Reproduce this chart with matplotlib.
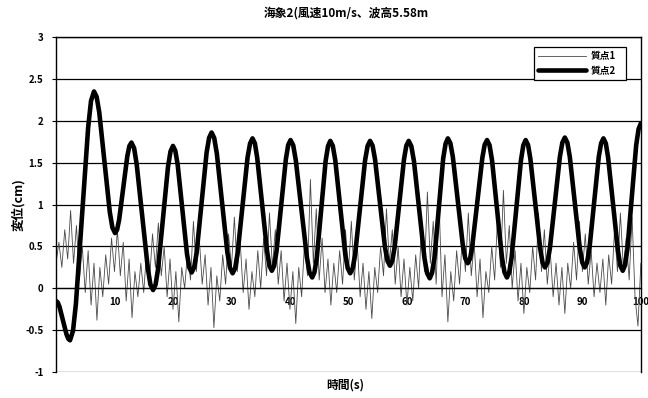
import matplotlib
matplotlib.use("Agg")
import matplotlib.pyplot as plt
import numpy as np

plt.rcParams['font.family'] = ['Noto Sans CJK JP', 'DejaVu Sans']

title = "海象2(風速10m/s、波高5.58m"
xlabel = "時間(s)"
ylabel = "変位(cm)"
series_names = ["質点1", "質点2"]

# 質点1: thin noisy line, sampled every 0.5 s from 0 to 100 s
t1 = np.arange(0, 100.01, 0.5)
y1 = [
    0.30, 0.55, 0.25, 0.70, 0.35, 0.93, 0.30, 0.75, 0.10, 0.50,
    -0.05, 0.45, -0.20, 0.30, -0.38, 0.25, -0.10, 0.40, 0.05, 0.60,
    0.20, 0.70, 0.15, 0.55, -0.15, 0.35, -0.35, 0.20, -0.10, 0.30,
    -0.05, 0.45, 0.10, 0.65, 0.25, 0.78, 0.15, 0.50, -0.10, 0.35,
    -0.25, 0.20, -0.40, 0.25, 0.00, 0.45, 0.10, 0.80, 0.20, 0.60,
    0.05, 0.40, -0.20, 0.25, -0.47, 0.15, -0.15, 0.40, 0.05, 0.65,
    0.25, 0.85, 0.20, 0.55, -0.05, 0.35, -0.25, 0.20, -0.10, 0.45,
    0.00, 0.60, 0.15, 0.90, 0.25, 0.70, 0.05, 0.45, -0.15, 0.30,
    -0.25, 0.20, -0.42, 0.25, -0.10, 0.55, 0.15, 1.30, 0.30, 0.95,
    0.10, 0.60, -0.05, 0.35, -0.20, 0.30, -0.05, 0.45, 0.05, 0.70,
    0.20, 0.80, 0.10, 0.55, -0.10, 0.30, -0.25, 0.20, -0.36, 0.25,
    -0.05, 0.50, 0.15, 0.95, 0.30, 0.70, 0.05, 0.50, -0.10, 0.35,
    -0.20, 0.25, -0.15, 0.40, 0.00, 0.75, 0.20, 1.15, 0.30, 0.80,
    0.05, 1.05, -0.10, 0.40, -0.40, 0.20, -0.15, 0.45, 0.05, 0.65,
    0.20, 0.90, 0.15, 0.55, -0.10, 0.35, -0.35, 0.20, -0.05, 0.50,
    0.10, 0.85, 0.25, 1.17, 0.30, 0.75, 0.00, 0.45, -0.15, 0.30,
    -0.30, 0.25, -0.05, 0.50, 0.10, 0.90, 0.20, 0.70, 0.05, 0.45,
    -0.10, 0.30, -0.20, 0.25, -0.30, 0.30, 0.00, 0.55, 0.10, 0.80,
    0.20, 0.65, 0.05, 0.45, -0.10, 0.30, -0.05, 0.35, -0.20, 0.40,
    0.05, 0.70, 0.20, 0.90, 0.25, 0.60, 0.10, 0.85, -0.10, -0.45,
    0.30,
]

# 質点2: heavy slow oscillation (times and values)
t2 = [
    0.0, 0.3, 0.6, 1.2, 1.8, 2.1,
    2.4, 2.91, 3.4, 4.45, 5.5, 5.99,
    6.5, 6.95, 7.4, 8.3, 9.2, 9.65,
    10.1, 10.45, 10.8, 11.5, 12.2, 12.55,
    12.9, 13.36, 13.8, 14.75, 15.7, 16.14,
    16.6, 17.03, 17.45, 18.3, 19.15, 19.58,
    20.0, 20.4, 20.8, 21.6, 22.4, 22.8,
    23.2, 23.63, 24.05, 24.9, 25.75, 26.18,
    26.6, 27.05, 27.5, 28.4, 29.3, 29.75,
    30.2, 30.63, 31.05, 31.9, 32.75, 33.18,
    33.6, 34.01, 34.4, 35.25, 36.1, 36.49,
    36.9, 37.3, 37.7, 38.5, 39.3, 39.7,
    40.1, 40.56, 41.0, 41.95, 42.9, 43.34,
    43.8, 44.19, 44.6, 45.35, 46.1, 46.51,
    46.9, 47.33, 47.75, 48.6, 49.45, 49.88,
    50.3, 50.73, 51.15, 52.0, 52.85, 53.28,
    53.7, 54.13, 54.55, 55.4, 56.25, 56.68,
    57.1, 57.5, 57.9, 58.7, 59.5, 59.9,
    60.3, 60.75, 61.2, 62.1, 63.0, 63.45,
    63.9, 64.29, 64.7, 65.45, 66.2, 66.61,
    67.0, 67.43, 67.85, 68.7, 69.55, 69.98,
    70.4, 70.81, 71.2, 72.05, 72.9, 73.29,
    73.7, 74.13, 74.55, 75.4, 76.25, 76.68,
    77.1, 77.5, 77.9, 78.7, 79.5, 79.9,
    80.3, 80.71, 81.1, 81.95, 82.8, 83.19,
    83.6, 84.03, 84.45, 85.3, 86.15, 86.58,
    87.0, 87.43, 87.85, 88.7, 89.55, 89.98,
    90.4, 90.8, 91.2, 92.0, 92.8, 93.2,
    93.6, 94.01, 94.4, 95.25, 96.1, 96.49,
    96.9, 97.29, 97.7, 98.45, 99.2, 99.61,
    100.0,
]
y2 = [
    -0.15, -0.168, -0.22, -0.385, -0.55, -0.602,
    -0.62, -0.507, -0.19, 0.87, 1.92, 2.237,
    2.35, 2.286, 2.10, 1.505, 0.91, 0.724,
    0.66, 0.701, 0.82, 1.20, 1.58, 1.699,
    1.74, 1.673, 1.48, 0.86, 0.24, 0.047,
    -0.02, 0.045, 0.23, 0.84, 1.45, 1.635,
    1.70, 1.643, 1.48, 0.945, 0.41, 0.247,
    0.19, 0.253, 0.43, 1.025, 1.62, 1.797,
    1.86, 1.796, 1.61, 1.02, 0.43, 0.244,
    0.18, 0.241, 0.42, 0.985, 1.56, 1.729,
    1.79, 1.730, 1.56, 1.00, 0.44, 0.270,
    0.21, 0.269, 0.44, 0.99, 1.54, 1.711,
    1.77, 1.708, 1.53, 0.95, 0.37, 0.192,
    0.13, 0.192, 0.37, 0.945, 1.52, 1.698,
    1.76, 1.700, 1.53, 0.97, 0.41, 0.240,
    0.18, 0.240, 0.41, 0.97, 1.53, 1.700,
    1.76, 1.703, 1.54, 1.015, 0.49, 0.327,
    0.27, 0.327, 0.49, 1.015, 1.54, 1.703,
    1.76, 1.698, 1.52, 0.94, 0.36, 0.182,
    0.12, 0.183, 0.36, 0.955, 1.55, 1.727,
    1.79, 1.733, 1.57, 1.045, 0.52, 0.357,
    0.30, 0.356, 0.52, 1.035, 1.56, 1.714,
    1.77, 1.708, 1.53, 0.95, 0.37, 0.192,
    0.13, 0.192, 0.37, 0.95, 1.53, 1.708,
    1.77, 1.712, 1.55, 1.01, 0.47, 0.308,
    0.25, 0.309, 0.48, 1.025, 1.57, 1.741,
    1.80, 1.741, 1.57, 1.025, 0.48, 0.309,
    0.25, 0.309, 0.47, 1.02, 1.57, 1.731,
    1.79, 1.730, 1.56, 1.00, 0.44, 0.270,
    0.21, 0.277, 0.47, 1.09, 1.71, 1.903,
    1.97,
]

x_ticks = [10, 20, 30, 40, 50, 60, 70, 80, 90, 100]
y_ticks = [-1, -0.5, 0, 0.5, 1, 1.5, 2, 2.5, 3]
y_ticklabels = ["-1", "-0.5", "0", "0.5", "1", "1.5", "2", "2.5", "3"]

fig = plt.figure(figsize=(6.48, 3.98), dpi=100)
ax = fig.add_axes([0.0864, 0.065, 0.9026, 0.842])

ax.set_xlim(0, 100)
ax.set_ylim(-1, 3)

for yv in y_ticks:
    ax.axhline(yv, color='black', lw=0.9, zorder=1)

ax.plot(t1, y1, color='#4a4a4a', lw=0.6, zorder=2, label=series_names[0])
ax.plot(t2, y2, color='black', lw=3.3, zorder=3, solid_joinstyle='round',
        solid_capstyle='round', label=series_names[1])

for s in ['left', 'right', 'top']:
    ax.spines[s].set_color('black')
    ax.spines[s].set_linewidth(1.0)
ax.spines['bottom'].set_position(('data', 0))
ax.spines['bottom'].set_linewidth(0.9)

ax.set_yticks(y_ticks)
ax.set_yticklabels(y_ticklabels, fontsize=7, fontweight='bold')
ax.set_xticks(x_ticks)
ax.set_xticklabels([str(v) for v in x_ticks], fontsize=7, fontweight='bold')
ax.tick_params(axis='y', direction='out', length=3, width=0.8, pad=6)
ax.tick_params(axis='x', direction='out', length=0, pad=6)

fig.text(0.535, 0.967, title, ha='center', va='center', fontsize=8.5,
         fontweight='bold')
fig.text(0.533, 0.032, xlabel, ha='center', va='center', fontsize=8.5,
         fontweight='bold')
fig.text(0.028, 0.485, ylabel, ha='center', va='center', rotation=90,
         fontsize=9, fontweight='bold')

leg = ax.legend(loc='upper left', bbox_to_anchor=(0.817, 0.863, 0.157, 0.107),
                mode='expand', prop={'weight': 'bold', 'size': 7},
                frameon=True, fancybox=False, edgecolor='black',
                framealpha=1.0, borderpad=0.4, handlelength=5.0,
                handletextpad=0.4, labelspacing=0.5, borderaxespad=0)
leg.get_frame().set_linewidth(0.9)
leg.set_zorder(5)

fig.savefig("out.png", dpi=100)
